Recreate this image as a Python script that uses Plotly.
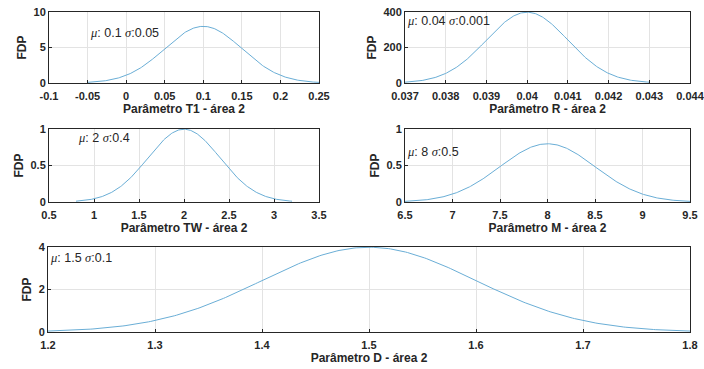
import numpy as np
import plotly.graph_objects as go

# Normal distributions of each parameter (area 2)
params = ["T1", "R", "TW", "M", "D"]
mus = [0.1, 0.04, 2, 8, 1.5]
sigmas = [0.05, 0.001, 0.4, 0.5, 0.1]
mu_labels = ["0.1", "0.04", "2", "8", "1.5"]
sigma_labels = ["0.05", "0.001", "0.4", "0.5", "0.1"]

x_ranges = [[-0.1, 0.25], [0.037, 0.044], [0.5, 3.5], [6.5, 9.5], [1.2, 1.8]]
y_ranges = [[0, 10], [0, 400], [0, 1], [0, 1], [0, 4]]
x_ticks = [
    [-0.1, -0.05, 0, 0.05, 0.1, 0.15, 0.2, 0.25],
    [0.037, 0.038, 0.039, 0.04, 0.041, 0.042, 0.043, 0.044],
    [0.5, 1, 1.5, 2, 2.5, 3, 3.5],
    [6.5, 7, 7.5, 8, 8.5, 9, 9.5],
    [1.2, 1.3, 1.4, 1.5, 1.6, 1.7, 1.8],
]
x_ticktext = [
    ["-0.1", "-0.05", "0", "0.05", "0.1", "0.15", "0.2", "0.25"],
    ["0.037", "0.038", "0.039", "0.04", "0.041", "0.042", "0.043", "0.044"],
    ["0.5", "1", "1.5", "2", "2.5", "3", "3.5"],
    ["6.5", "7", "7.5", "8", "8.5", "9", "9.5"],
    ["1.2", "1.3", "1.4", "1.5", "1.6", "1.7", "1.8"],
]
y_ticks = [[0, 5, 10], [0, 200, 400], [0, 0.5, 1], [0, 0.5, 1], [0, 2, 4]]
y_ticktext = [["0", "5", "10"], ["0", "200", "400"], ["0", "0.5", "1"],
              ["0", "0.5", "1"], ["0", "2", "4"]]
label_pos = [(-0.05, 7), (0.037, 350), (0.8, 0.88), (6.5, 0.68), (1.2, 3.5)]

W, H = 704, 369
# panel boxes in pixels: (left, right, top, bottom)
boxes = [(49, 319, 12, 83), (405, 690, 12, 83), (49, 319, 129, 202),
         (405, 690, 129, 202), (48, 690, 247, 332)]

fig = go.Figure()
INK = "#262626"
LINE = "#6aaed6"
tick_font = dict(family="Liberation Sans", size=11, color=INK)
title_font = dict(family="Liberation Sans", size=12, color=INK)

for i, p in enumerate(params):
    mu, s = mus[i], sigmas[i]
    x = np.linspace(mu - 3 * s, mu + 3 * s, 301)
    y = np.exp(-0.5 * ((x - mu) / s) ** 2) / (s * np.sqrt(2 * np.pi))
    n = "" if i == 0 else str(i + 1)
    fig.add_trace(go.Scatter(x=x, y=y, mode="lines", xaxis="x" + n, yaxis="y" + n,
                             line=dict(color=LINE, width=1), showlegend=False,
                             hoverinfo="skip"))
    l, r, t, b = boxes[i]
    # pad the ranges by a hair so the end ticks survive float rounding
    x0, x1 = x_ranges[i]
    pad = (x1 - x0) * 1e-6
    y0, y1 = y_ranges[i]
    ypad = (y1 - y0) * 1e-6
    common = dict(showgrid=True, gridcolor="#e3e3e3", gridwidth=1, zeroline=False,
                  showline=True, linecolor=INK, linewidth=1, mirror=True,
                  ticks="inside", ticklen=3, tickcolor=INK, automargin=False,
                  tickfont=tick_font, tickmode="array", ticklabeloverflow="allow")
    fig.layout["xaxis" + n] = dict(
        common, domain=[l / W, r / W], anchor="y" + n, range=[x0 - pad, x1 + pad],
        tickvals=x_ticks[i], ticktext=["<b>%s</b>" % v for v in x_ticktext[i]],
        ticklabelstandoff=3,
        title=dict(text="<b>Parâmetro %s - área 2</b>" % p, standoff=0,
                   font=title_font))
    fig.layout["yaxis" + n] = dict(
        common, domain=[1 - b / H, 1 - t / H], anchor="x" + n,
        range=[y0 - ypad, y1 + ypad],
        tickvals=y_ticks[i], ticktext=["<b>%s</b>" % v for v in y_ticktext[i]],
        title=dict(text="<b>FDP</b>", standoff=4, font=title_font))
    ax, ay = label_pos[i]
    serif = '<span style="font-family:Liberation Serif"><i>%s</i></span>'
    fig.add_annotation(
        x=ax, y=ay, xref="x" + n, yref="y" + n, xanchor="left", yanchor="middle",
        showarrow=False,
        text=(serif % "μ") + ": " + mu_labels[i] + " " + (serif % "σ") + ":" + sigma_labels[i],
        font=dict(family="Liberation Sans", size=12.5, color=INK))

fig.update_layout(width=W, height=H, margin=dict(l=0, r=0, t=0, b=0),
                  paper_bgcolor="white", plot_bgcolor="white")
fig.write_html("out.html")
